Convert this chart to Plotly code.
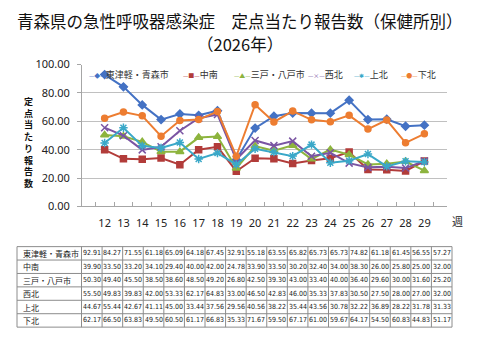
import plotly.graph_objects as go

weeks = [str(w) for w in range(12, 30)]
names = ["東津軽・青森市", "中南", "三戸・八戸市", "西北", "上北", "下北"]
tohaku = [92.91, 84.27, 71.55, 61.18, 65.09, 64.18, 67.45, 32.91, 55.18, 63.55, 65.82, 65.73, 65.73, 74.82, 61.18, 61.45, 56.55, 57.27]
chunan = [39.90, 33.50, 33.20, 34.10, 29.40, 40.00, 42.00, 24.78, 33.90, 33.50, 30.20, 32.40, 34.00, 38.30, 26.00, 25.80, 25.00, 32.00]
sannohe = [50.30, 49.40, 45.50, 38.50, 38.60, 48.50, 49.20, 26.80, 42.50, 39.30, 43.00, 33.40, 40.00, 36.40, 29.60, 30.00, 31.60, 25.20]
seihoku = [55.50, 49.83, 39.83, 42.00, 53.33, 62.17, 64.83, 33.00, 46.50, 42.83, 46.00, 35.33, 37.83, 30.50, 27.50, 28.00, 27.00, 32.00]
kamikita = [44.67, 55.44, 42.67, 41.11, 45.00, 33.44, 37.56, 29.56, 40.56, 38.22, 35.44, 43.56, 30.78, 32.22, 36.89, 28.22, 31.78, 31.33]
shimokita = [62.17, 66.50, 63.83, 49.50, 60.50, 61.17, 66.83, 35.33, 71.67, 59.50, 67.17, 61.00, 59.67, 64.17, 54.50, 60.83, 44.83, 51.17]
series = [tohaku, chunan, sannohe, seihoku, kamikita, shimokita]

colors = ["#4472C4", "#B23C3A", "#8DB43E", "#7A55A3", "#3AA8C8", "#ED7D31"]
symbols = ["diamond", "square", "triangle-up", "x-thin", "asterisk", "circle"]
msizes = [6, 6, 7, 7, 7, 6]
leg_glyph = ["◆", "■", "▲", "×", "✱", "●"]
leg_x = [88, 182, 233, 307, 353, 400]

W, H = 480, 360
JP = "Noto Sans CJK JP"
NUM = "Liberation Sans Narrow, DejaVu Sans Condensed, sans-serif"

# layout constants (pixels)
PX0, PX1, PY0, PY1 = 82, 447, 59, 207          # plot area
TX0, TNAME, TX1, TY0, ROWH = 17, 81.5, 452, 249, 14  # table


def px(x):
    return x / W


def py(y):
    return 1 - y / H


fig = go.Figure()
for nm, ys, c, s, ms in zip(names, series, colors, symbols, msizes):
    fig.add_trace(go.Scatter(
        x=weeks, y=ys, name=nm, mode="lines+markers",
        line=dict(color=c, width=2),
        marker=dict(symbol=s, size=ms, color=c, line=dict(color=c, width=1.5)),
        showlegend=False,
    ))

fig.update_layout(
    width=W, height=H, autosize=False,
    margin=dict(l=0, r=0, t=0, b=0),
    paper_bgcolor="white", plot_bgcolor="white",
    xaxis=dict(domain=[px(PX0), px(PX1)], type="category", tickson="boundaries",
               ticks="inside", ticklen=4, tickcolor="#A6A6A6", tickangle=0,
               showline=True, linecolor="#A6A6A6", linewidth=1, showgrid=False,
               tickfont=dict(family="Noto Sans", size=11, color="#222222"),
               ticklabelstandoff=6),
    yaxis=dict(domain=[py(PY1), py(PY0)], range=[0, 100], dtick=20,
               tickformat=".2f", ticks="outside", ticklen=4, tickcolor="#A6A6A6",
               showline=True, linecolor="#A6A6A6", linewidth=1,
               showgrid=True, gridcolor="#C0C0C0", gridwidth=1, zeroline=False,
               tickfont=dict(family="Noto Sans", size=11, color="#222222"),
               ticklabelstandoff=5),
)

anns = []
shapes = []

# title (two lines)
anns.append(dict(text="青森県の急性呼吸器感染症　定点当たり報告数（保健所別）",
                 x=0.5, y=py(14), xref="paper", yref="paper", showarrow=False,
                 xanchor="center", yanchor="middle",
                 font=dict(family=JP, size=16.5, color="#111111")))
anns.append(dict(text="（2026年）",
                 x=0.5, y=py(38), xref="paper", yref="paper", showarrow=False,
                 xanchor="center", yanchor="middle",
                 font=dict(family=JP, size=16.5, color="#111111")))

# vertical y-axis title (stacked characters)
ytitle = "定点当たり報告数"
anns.append(dict(text="<b>" + "<br>".join(ytitle) + "</b>", x=px(28), y=py(140),
                 xref="paper", yref="paper", showarrow=False,
                 xanchor="center", yanchor="middle", borderpad=0,
                 font=dict(family=JP, size=9, color="#111111")))

# week unit label
anns.append(dict(text="週", x=px(457), y=py(222), xref="paper", yref="paper",
                 showarrow=False, xanchor="center", yanchor="middle",
                 font=dict(family=JP, size=11, color="#222222")))

# legend entries
for nm, c, g, lx in zip(names, colors, leg_glyph, leg_x):
    anns.append(dict(
        text=f"<span style='color:{c};font-size:6px'>—{g}—</span>{nm}",
        x=px(lx), y=py(69), xref="paper", yref="paper", showarrow=False,
        xanchor="left", yanchor="middle", borderpad=0,
        font=dict(family=JP, size=9, color="#333333")))

# data table
ncol = len(weeks)
colw = (TX1 - TNAME) / ncol
nrow = len(names)
TY1 = TY0 + nrow * ROWH
for r in range(nrow + 1):
    y = TY0 + r * ROWH
    shapes.append(dict(type="line", xref="paper", yref="paper",
                       x0=px(TX0), x1=px(TX1), y0=py(y), y1=py(y),
                       line=dict(color="#8C8C8C", width=1)))
vx = [TX0, TNAME] + [TNAME + (k + 1) * colw for k in range(ncol)]
for x in vx:
    shapes.append(dict(type="line", xref="paper", yref="paper",
                       x0=px(x), x1=px(x), y0=py(TY0), y1=py(TY1),
                       line=dict(color="#8C8C8C", width=1)))
for r, (nm, vals) in enumerate(zip(names, series)):
    yc = TY0 + (r + 0.5) * ROWH
    anns.append(dict(text=nm, x=px(TX0 + 4), y=py(yc), xref="paper", yref="paper",
                     showarrow=False, xanchor="left", yanchor="middle",
                     font=dict(family=JP, size=8, color="#222222")))
    for k, v in enumerate(vals):
        anns.append(dict(text=f"{v:.2f}", x=px(TNAME + (k + 0.5) * colw), y=py(yc),
                         xref="paper", yref="paper", showarrow=False,
                         xanchor="center", yanchor="middle",
                         font=dict(family=NUM, size=7, color="#222222")))

fig.update_layout(annotations=anns, shapes=shapes)

fig.write_html("out.html")
